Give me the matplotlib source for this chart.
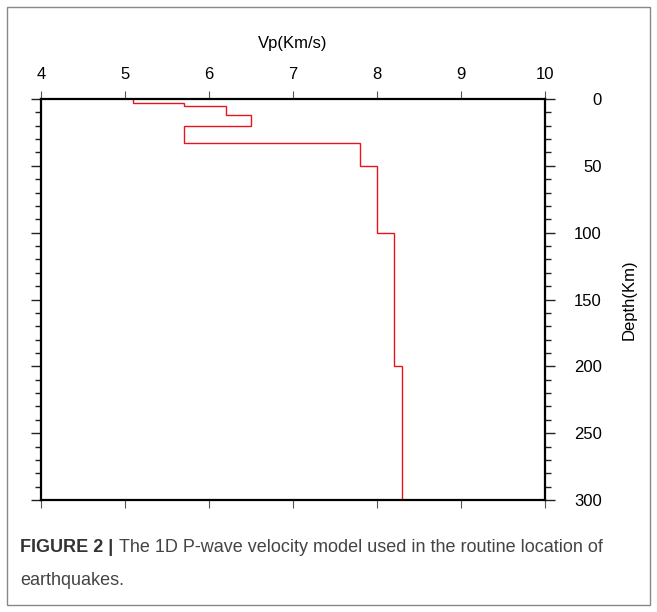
import matplotlib
matplotlib.use("Agg")
from matplotlib import pyplot as plt
from matplotlib.patches import Rectangle
import numpy as np

# layer boundaries (km) and P-wave velocity in each layer (km/s)
depth_edges = [0, 3, 5, 12, 20, 33, 50, 100, 200, 300]
vp = [5.1, 5.7, 6.2, 6.5, 5.7, 7.8, 8.0, 8.2, 8.3]

x_ticks = [4, 5, 6, 7, 8, 9, 10]
y_ticks = [0, 50, 100, 150, 200, 250, 300]

plt.rcParams['font.family'] = ['Liberation Sans', 'DejaVu Sans']

fig = plt.figure(figsize=(6.57, 6.12), dpi=100)
ax = fig.add_axes([41 / 657, 1 - 500 / 612, 504 / 657, 401 / 612])

ax.stairs(vp, depth_edges, orientation='horizontal', baseline=None,
          color='#e8141b', linewidth=1.0)

ax.set_xlim(4, 10)
ax.set_ylim(300, 0)

ax.set_xticks(x_ticks)
ax.set_yticks(y_ticks)
ax.set_yticks(np.arange(0, 301, 10), minor=True)

ax.tick_params(axis='x', which='both', top=True, bottom=True, labeltop=True,
               labelbottom=False, direction='out', length=6, width=0.8,
               color='#555555', labelsize=12, pad=6)
ax.tick_params(axis='y', which='major', left=True, right=True, labelleft=False,
               labelright=True, direction='out', length=7, width=1.0,
               color='#222222', labelsize=12, pad=34)
ax.tick_params(axis='y', which='minor', left=True, right=True,
               direction='out', length=4, width=1.0, color='#222222')
for lab in ax.get_yticklabels():
    lab.set_horizontalalignment('right')

for s in ax.spines.values():
    s.set_linewidth(1.6)

ax.set_xlabel('Vp(Km/s)', fontsize=12, labelpad=14)
ax.xaxis.set_label_position('top')
ax.set_ylabel('Depth(Km)', fontsize=12, labelpad=14)
ax.yaxis.set_label_position('right')

# caption
cap = fig.text(20 / 657, 1 - 552 / 612, 'FIGURE 2 |', fontsize=13,
               fontweight='bold', color='#333333', va='baseline')
ax.annotate('The 1D P-wave velocity model used in the routine location of',
            xy=(1, 0), xycoords=cap, xytext=(4, 0), textcoords='offset points',
            fontsize=13, color='#444444', va='bottom', annotation_clip=False)
fig.text(20 / 657, 1 - 585 / 612, 'earthquakes.', fontsize=13,
         color='#444444', va='baseline')

# outer frame around the figure panel
fig.patches.append(Rectangle((7 / 657, 7 / 612), 643 / 657, 598 / 612,
                             transform=fig.transFigure, fill=False,
                             edgecolor='#888888', linewidth=1.0))

fig.savefig('out.png', dpi=100)
